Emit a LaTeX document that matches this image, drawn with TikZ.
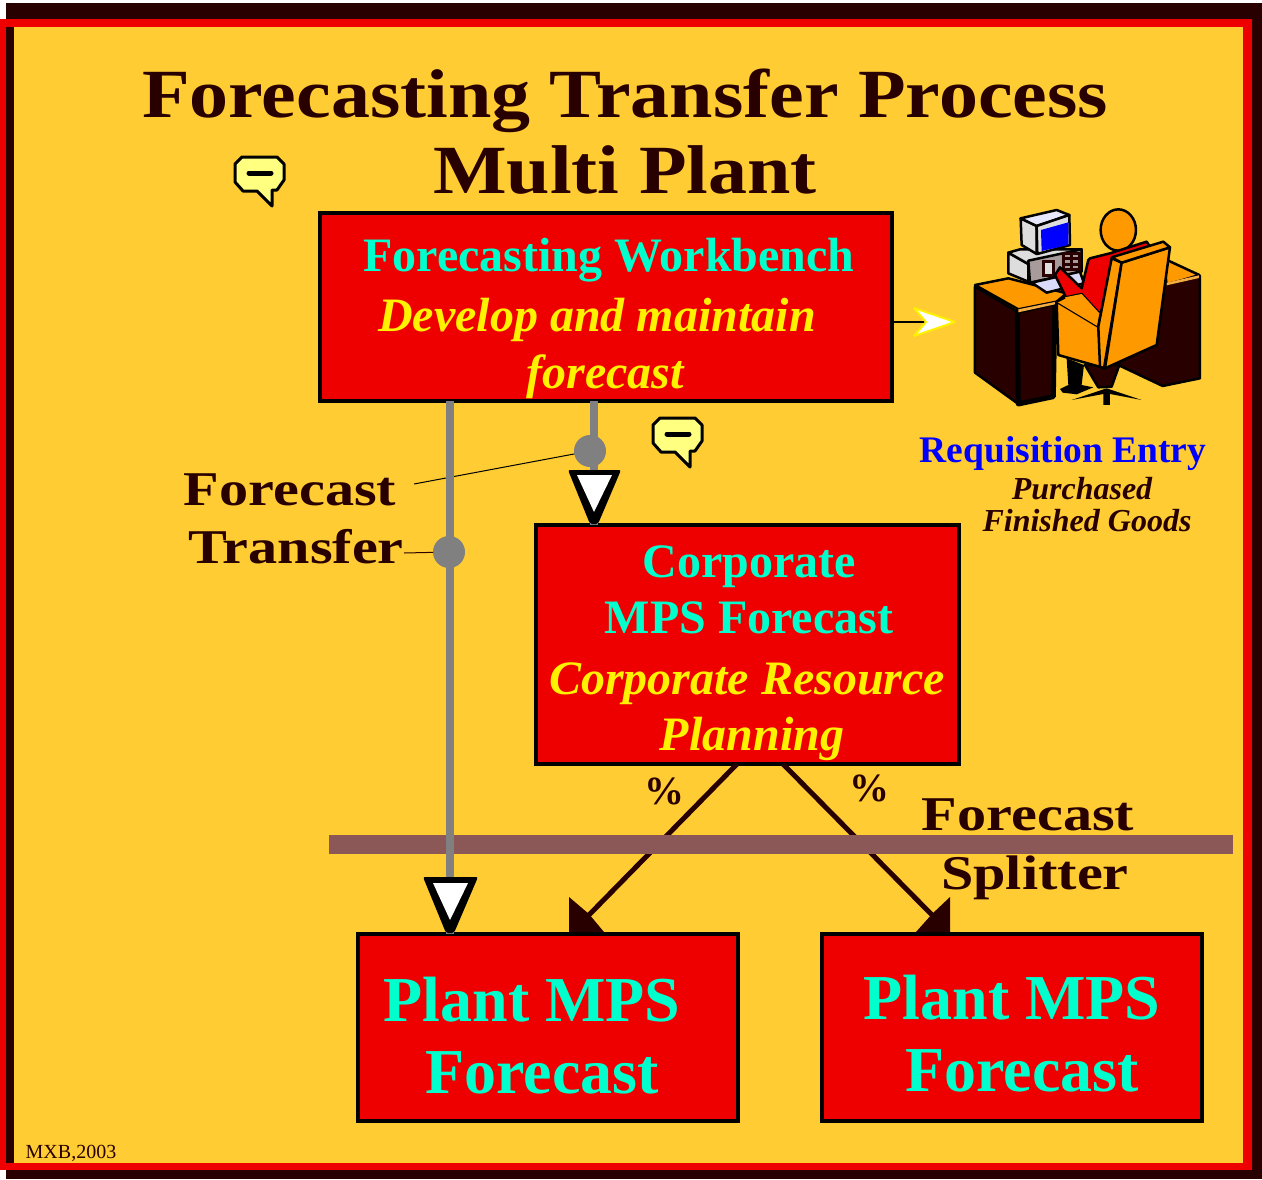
\documentclass[tikz,border=0pt]{standalone}
\usepackage{fontspec}
\setmainfont{Liberation Serif}
\newfontfamily\widefont[FakeStretch=1.2]{Liberation Serif}
\newfontfamily\titlefont[FakeStretch=1.13]{Liberation Serif}
\definecolor{bgyellow}{HTML}{FFCC33}
\definecolor{boxred}{HTML}{EE0000}
\definecolor{darktext}{HTML}{280000}
\definecolor{headcyan}{HTML}{00FFCC}
\definecolor{bargray}{HTML}{808080}
\definecolor{splitbar}{HTML}{8C5757}
\definecolor{chair}{HTML}{FF9900}
\definecolor{paleyellow}{HTML}{FFFF80}
\definecolor{pcgray}{HTML}{DDDDDD}
\tikzset{
  redbox/.style={draw=black, fill=boxred, line width=3.5pt, inner sep=0pt, outer sep=0pt, anchor=north west},
  txt/.style={anchor=base, inner sep=0pt},
  headtxt/.style={txt, text=headcyan, font=\bfseries\fontsize{48}{48}\selectfont},
  subtxt/.style={txt, text=yellow, font=\bfseries\itshape\fontsize{48}{48}\selectfont},
  bigtxt/.style={txt, text=headcyan, font=\bfseries\fontsize{64}{64}\selectfont},
  titletxt/.style={txt, text=darktext, font=\titlefont\bfseries\fontsize{69}{69}\selectfont},
  labeltxt/.style={txt, text=darktext, font=\widefont\bfseries\fontsize{48.5}{48.5}\selectfont},
  pcttxt/.style={txt, text=darktext, font=\bfseries\fontsize{40}{40}\selectfont},
  tripart/.style={fill=black, rounded corners=2pt},
  grayline/.style={draw=bargray, line width=8pt},
  graydot/.style={circle, fill=bargray, minimum size=32pt, inner sep=0pt, outer sep=0pt},
  pc/.style={draw=black, line width=2.5pt, line join=round},
}
\begin{document}
\begin{tikzpicture}[x=1pt, y=-1pt]
	\useasboundingbox (0,0) rectangle (1262,1179);
	% frame
	\fill[darktext] (6,3) rectangle (1262,1179);
	\fill[boxred] (0,19) rectangle (1252,1170);
	\fill[darktext] (6,27) rectangle (14,1163);
	\fill[bgyellow] (14,27) rectangle (1243,1163);
	% title
	\node[titletxt] (title1) at (625,117) {Forecasting Transfer Process};
	\node[titletxt] (title2) at (625,193) {Multi Plant};
	% boxes
	\node[redbox, minimum width=572pt, minimum height=188pt] (bench) at (320,213) {};
	\node[redbox, minimum width=423pt, minimum height=239pt] (corp) at (536,525) {};
	\node[redbox, minimum width=380pt, minimum height=187pt] (plantA) at (358,934) {};
	\node[redbox, minimum width=380pt, minimum height=187pt] (plantB) at (822,934) {};
	\node[headtxt] (benchA) at (609,271) {Forecasting Workbench};
	\node[subtxt] (benchB) at (597,331) {Develop and maintain};
	\node[subtxt] (benchC) at (605,388) {forecast};
	\node[headtxt] (corpA) at (749,577) {Corporate};
	\node[headtxt] (corpB) at (749,633) {MPS Forecast};
	\node[subtxt] (corpC) at (747,694) {Corporate Resource};
	\node[subtxt] (corpD) at (752,750) {Planning};
	\node[bigtxt] (plantAa) at (532,1021) {Plant MPS};
	\node[bigtxt] (plantAb) at (542,1093) {Forecast};
	\node[bigtxt] (plantBa) at (1012,1019) {Plant MPS};
	\node[bigtxt] (plantBb) at (1022,1091) {Forecast};
	% splitter arrows
	\coordinate (splitA) at (737,764);
	\coordinate (splitB) at (783,764);
	\coordinate (tipA) at (585,919);
	\coordinate (tipB) at (936,919);
	\draw[darktext, line width=5pt] (splitA) -- (tipA);
	\draw[darktext, line width=5pt] (splitB) -- (tipB);
	\fill[darktext] (569,897) -- (589,914) -- (604,932) -- (569,932) -- cycle;
	\fill[darktext] (950,897) -- (932,914) -- (916,932) -- (950,932) -- cycle;
	\fill[splitbar] (329,835) rectangle (1233,854);
	% gray transfer lines
	\coordinate (dotAc) at (590,451);
	\coordinate (triA) at (594,525);
	\coordinate (triB) at (450,934);
	\draw[black, line width=1pt] (414,484) -- (dotAc);
	\node[graydot] (dotA) at (dotAc) {};
	\node[graydot] (dotB) at (449,552) {};
	\draw[grayline] (bench.south -| triA) -- (triA);
	\draw[grayline] (bench.south -| triB) -- (triB);
	\fill[tripart] (568,470) -- (621,470) -- (598,524) -- (590,524) -- cycle;
	\fill[white] (577,475) -- (612,475) -- (594,512) -- cycle;
	\fill[tripart] (423,877) -- (478,877) -- (454,933) -- (446,933) -- cycle;
	\fill[white] (433,883) -- (468,883) -- (450,920) -- cycle;
	% labels
	\node[labeltxt] (ftA) at (290,505) {Forecast};
	\node[labeltxt] (ftB) at (296,563) {Transfer};
	\draw[darktext, line width=1pt] (404,553) -- (dotB);
	\node[labeltxt] (fsA) at (1028,830) {Forecast};
	\node[labeltxt] (fsB) at (1035,889) {Splitter};
	\node[pcttxt] (pctA) at (664,804) {\%};
	\node[pcttxt] (pctB) at (869,801) {\%};
	% arrow to the desk
	\coordinate (deskin) at (925,322);
	\draw[black, line width=2pt] (bench.east |- deskin) -- (deskin);
	\draw[yellow, fill=white, line width=2pt, miter limit=2] (914,308) -- (955,322) -- (914,336) -- (926,322) -- cycle;
	% speech bubbles
	\foreach \dx/\dy in {0/0, 418/261} {
		\begin{scope}[shift={(\dx,\dy)}]
			\draw[fill=paleyellow, line width=3pt, line join=round] (242,157) -- (277,157) -- (284,164) -- (284,180) -- (277,190) -- (272,190) -- (272,206) -- (257,191) -- (243,191) -- (235,182) -- (235,164) -- cycle;
			\draw[line width=5pt, line cap=round] (249,173) -- (271,173);
		\end{scope}
	}
	% person at the desk
	\begin{scope}[shift={(880,190)}, x=0.3333pt, y=-0.3333pt]
		\draw[pc, fill=chair] (850,205) -- (958,255) -- (860,285) -- cycle;
		\draw[pc, fill=darktext] (850,285) -- (960,258) -- (960,565) -- (848,588) -- (715,525) -- cycle;
		\fill[pcgray!30!chair] (860,278) -- (957,256) -- (957,264) -- (860,286) -- cycle;
		\draw[pc, fill=darktext] (285,290) -- (412,365) -- (415,642) -- (285,548) -- cycle;
		\draw[pc, line width=5pt, fill=darktext] (412,365) -- (525,338) -- (520,620) -- (415,642) -- cycle;
		\draw[pc, fill=chair] (285,285) -- (385,265) -- (560,310) -- (530,335) -- (415,358) -- cycle;
		\fill[pcgray!30!chair] (415,358) -- (525,336) -- (525,343) -- (415,367) -- cycle;
		% computer
		\draw[pc, fill=pcgray] (385,188) -- (445,222) -- (445,275) -- (385,250) -- cycle;
		\draw[pc, fill=pcgray] (385,188) -- (420,178) -- (605,178) -- (445,222) -- cycle;
		\draw[pc, fill=pcgray!70!darktext] (445,212) -- (605,178) -- (605,245) -- (450,278) -- cycle;
		\draw[draw=darktext, fill=pcgray, line width=3pt] (490,215) rectangle (522,258);
		\draw[draw=darktext, line width=3pt] (552,190) rectangle (600,240) (552,207) -- (600,207) (552,224) -- (600,224) (575,190) -- (575,240);
		\draw[pc, fill=pcgray!60!blue!30] (455,278) -- (600,245) -- (612,280) -- (500,308) -- cycle;
		\draw[pc, fill=pcgray] (422,85) -- (470,108) -- (470,192) -- (425,165) -- cycle;
		\draw[pc, fill=pcgray!60!blue!20] (422,85) -- (530,60) -- (568,75) -- (470,108) -- cycle;
		\draw[pc, fill=pcgray] (470,108) -- (568,75) -- (570,165) -- (472,192) -- cycle;
		\fill[blue] (483,120) -- (565,97) -- (565,165) -- (485,183) -- cycle;
		% legs
		\fill[black] (560,505) -- (612,525) -- (605,585) -- (640,592) -- (590,613) -- (548,608) -- (540,597) -- (565,585) -- cycle;
		\draw[pc, fill=darktext] (615,525) -- (718,525) -- (695,590) -- (655,592) -- cycle;
		\fill[black] (575,630) -- (680,595) -- (785,630) -- (690,612) -- (690,645) -- (670,645) -- (670,612) -- cycle;
		% body
		\draw[pc, fill=chair] (715,120) ellipse [x radius=53, y radius=62];
		\draw[pc, fill=boxred] (630,205) -- (690,190) -- (800,155) -- (810,170) -- (720,230) -- (660,372) -- (605,312) -- (558,322) -- (525,255) -- (540,232) -- (605,295) -- (625,210) -- cycle;
		% chair
		\draw[pc, fill=chair] (530,335) -- (655,410) -- (665,532) -- (535,495) -- cycle;
		\fill[chair] (530,335) -- (555,322) -- (605,312) -- (660,372) -- (655,410) -- cycle;
		\draw[pc] (530,335) -- (555,322) (655,410) -- (662,372);
		\draw[pc, fill=chair] (695,205) -- (725,218) -- (672,535) -- (660,530) -- (655,410) -- cycle;
		\draw[pc, fill=chair] (725,218) -- (870,172) -- (830,465) -- (675,535) -- cycle;
		\draw[pc, fill=chair] (695,202) -- (850,155) -- (870,172) -- (725,218) -- cycle;
	\end{scope}
	% desk captions
	\node[txt, text=blue, font=\bfseries\fontsize{37.5}{37.5}\selectfont] (reqA) at (1063,462) {Requisition Entry};
	\node[txt, text=darktext, font=\bfseries\itshape\fontsize{32}{32}\selectfont] (reqB) at (1082,499) {Purchased};
	\node[txt, text=darktext, font=\bfseries\itshape\fontsize{32}{32}\selectfont] (reqC) at (1087,531) {Finished Goods};
	\node[txt, text=darktext, font=\fontsize{20}{20}\selectfont] (stamp) at (71,1158) {MXB,2003};
\end{tikzpicture}
\end{document}
